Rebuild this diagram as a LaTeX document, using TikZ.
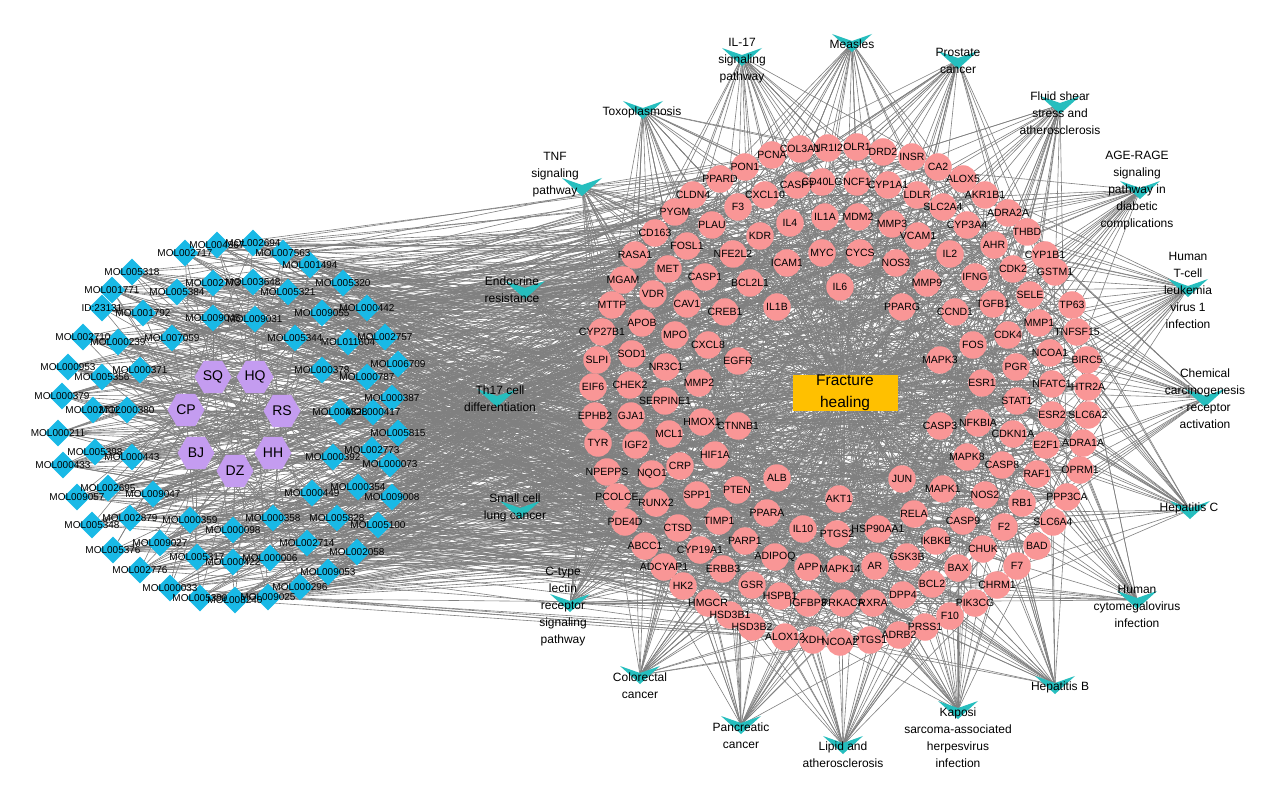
\documentclass[tikz,border=0pt]{standalone}
\usepackage{fontspec}
\setmainfont{Liberation Sans}
\usetikzlibrary{shapes.geometric}
\pgfdeclarelayer{bg}
\pgfsetlayers{bg,main}
\definecolor{tgtc}{RGB}{249,150,150}
\definecolor{cmpc}{RGB}{25,185,230}
\definecolor{herbc}{RGB}{196,156,240}
\definecolor{pwc}{RGB}{38,190,190}
\definecolor{fhc}{RGB}{255,192,0}
\definecolor{edgec}{RGB}{128,128,128}
\tikzset{
 tgt/.style={circle,fill=tgtc,minimum size=27.5pt,inner sep=0pt},
 tlbl/.style={font=\fontsize{10.5}{12}\selectfont,inner sep=0pt},
 cmp/.style={diamond,fill=cmpc,minimum width=27pt,minimum height=27pt,inner sep=0pt},
 clbl/.style={font=\fontsize{10}{12}\selectfont,inner sep=0pt},
 herb/.style={regular polygon,regular polygon sides=6,fill=herbc,minimum size=37pt,inner sep=0pt,font=\fontsize{14}{16}\selectfont},
 plbl/.style={font=\fontsize{12}{17}\selectfont,align=center,inner sep=0pt},
 fhbox/.style={rectangle,fill=fhc,minimum width=105pt,minimum height=33pt,inner sep=0pt,align=center,font=\fontsize{15.5}{22}\selectfont},
 edge/.style={draw=edgec,line width=0.6pt},
}
\def\tlist{720/179/PPARD,745/167/PON1,772/155/PCNA,800/149/COL3A1,828/148/NR1I2,857/147/OLR1,883/152/DRD2,912/157/INSR,938/167/CA2,963/179/ALOX5,
985/195/AKR1B1,1008/213/ADRA2A,1027/232/THBD,1045/255/CYP1B1,1055/272/GSTM1,1072/305/TP63,1077/332/TNFSF15,1087/360/BIRC5,1088/387/HTR2A,1088/415/SLC6A2,
1083/443/ADRA1A,1080/470/OPRM1,1067/497/PPP3CA,1053/522/SLC6A4,1037/546/BAD,1017/566/F7,997/585/CHRM1,975/603/PIK3CG,950/616/F10,925/627/PRSS1,
899/635/ADRB2,870/640/PTGS1,840/642/NCOA2,813/640/XDH,785/637/ALOX12,752/627/HSD3B2,730/615/HSD3B1,708/603/HMGCR,683/586/HK2,664/567/ADCYAP1,
645/546/ABCC1,625/522/PDE4D,617/497/PCOLCE,607/472/NPEPPS,598/443/TYR,595/416/EPHB2,593/387/EIF6,597/360/SLPI,602/332/CYP27B1,612/305/MTTP,
623/280/MGAM,635/255/RASA1,655/233/CD163,675/212/PYGM,693/195/CLDN4,
765/195/CXCL10,797/185/CASP7,822/182/CD40LG,857/182/NCF1,888/185/CYP1A1,917/195/LDLR,943/207/SLC2A4,967/225/CYP3A4,994/245/AHR,1013/269/CDK2,
1030/295/SELE,1039/323/MMP1,1050/353/NCOA1,1052/384/NFATC1,1052/415/ESR2,1046/445/E2F1,1037/474/RAF1,1022/503/RB1,1004/527/F2,983/549/CHUK,
958/568/BAX,932/584/BCL2,903/595/DPP4,873/603/RXRA,843/603/PRKACA,808/603/IGFBP3,780/596/HSPB1,752/585/GSR,723/569/ERBB3,700/550/CYP19A1,
678/528/CTSD,656/503/RUNX2,652/474/NQO1,636/445/IGF2,631/416/GJA1,630/385/CHEK2,632/354/SOD1,642/323/APOB,653/294/VDR,668/269/MET,
687/246/FOSL1,712/225/PLAU,738/207/F3,
790/223/IL4,760/236/KDR,733/254/NFE2L2,705/277/CASP1,687/304/CAV1,675/335/MPO,666/367/NR3C1,665/401/SERPINE1,669/434/MCL1,680/466/CRP,
697/495/SPP1,719/521/TIMP1,745/541/PARP1,775/557/ADIPOQ,808/567/APP,840/569/MAPK14,875/566/AR,907/557/GSK3B,936/541/IKBKB,963/521/CASP9,
985/495/NOS2,1002/465/CASP8,1013/434/CDKN1A,1017/401/STAT1,1016/367/PGR,1008/335/CDK4,993/304/TGFB1,975/277/IFNG,950/254/IL2,918/236/VCAM1,
892/224/MMP3,858/217/MDM2,825/217/IL1A,787/263/ICAM1,750/283/BCL2L1,725/312/CREB1,708/345/CXCL8,699/383/MMP2,702/422/HMOX1,715/455/HIF1A,
737/490/PTEN,767/513/PPARA,803/529/IL10,837/534/PTGS2,878/529/HSP90AA1,914/514/RELA,943/489/MAPK1,967/457/MAPK8,978/423/NFKBIA,982/383/ESR1,
973/345/FOS,955/312/CCND1,927/283/MMP9,896/263/NOS3,860/253/CYCS,822/253/MYC,
777/307/IL1B,738/361/EGFR,738/426/CTNNB1,777/478/ALB,839/499/AKT1,902/479/JUN,940/426/CASP3,940/360/MAPK3,902/307/PPARG,840/287/IL6}
\def\clist{217/245/MOL004367,253/243/MOL002694,185/253/MOL002717,283/253/MOL007563,132/272/MOL005318,310/265/MOL001494,213/283/MOL002773,253/282/MOL003648,343/283/MOL005320,112/290/MOL001771,
177/292/MOL005384,288/292/MOL005321,102/308/ID:23131,367/308/MOL000442,143/313/MOL001792,213/318/MOL009045,255/319/MOL009031,322/313/MOL009055,83/337/MOL002710,118/342/MOL000239,
172/338/MOL007059,295/338/MOL005344,348/342/MOL011604,385/337/MOL002757,68/367/MOL000953,140/370/MOL000371,102/377/MOL005356,322/370/MOL000378,367/377/MOL000787,398/364/MOL006709,
62/396/MOL000379,392/398/MOL000387,93/410/MOL002712,127/410/MOL000380,340/412/MOL004328,373/412/MOL000417,58/433/MOL000211,398/433/MOL005815,95/452/MOL005398,132/457/MOL000443,
333/457/MOL000392,372/450/MOL002773,63/465/MOL000433,390/464/MOL000073,108/488/MOL002695,153/494/MOL009047,312/493/MOL000449,358/487/MOL000354,77/497/MOL009057,392/497/MOL009008,
130/518/MOL002879,190/520/MOL000359,273/518/MOL000358,337/518/MOL005828,378/525/MOL005100,92/525/MOL005348,233/530/MOL000098,307/543/MOL002714,160/543/MOL009027,113/550/MOL005376,
357/552/MOL002058,197/557/MOL005317,270/558/MOL000006,233/562/MOL000422,140/570/MOL002776,328/572/MOL009053,170/588/MOL000033,300/587/MOL000296,268/597/MOL009025,200/598/MOL005399,
235/600/MOL008240}
\def\plist{742/57/742/61/{IL-17\\signaling\\pathway},
852/43/852/44/{Measles},
958/60/958/61/{Prostate\\cancer},
643/110/642/112/{Toxoplasmosis},
1060/105/1060/113/{Fluid shear\\stress and\\atherosclerosis},
1140/190/1137/191/{AGE-RAGE\\signaling\\pathway in\\diabetic\\complications},
1188/288/1188/290/{Human\\T-cell\\leukemia\\virus 1\\infection},
1205/398/1205/399/{Chemical\\carcinogenesis\\- receptor\\activation},
1190/510/1189/508/{Hepatitis C},
1137/600/1137/606/{Human\\cytomegalovirus\\infection},
1055/685/1060/687/{Hepatitis B},
958/710/958/738/{Kaposi\\sarcoma-associated\\herpesvirus\\infection},
843/745/843/755/{Lipid and\\atherosclerosis},
741/725/741/736/{Pancreatic\\cancer},
640/675/640/686/{Colorectal\\cancer},
570/603/563/607/{C-type\\lectin\\receptor\\signaling\\pathway},
520/510/515/508/{Small cell\\lung cancer},
497/398/500/399/{Th17 cell\\differentiation},
525/290/512/290/{Endocrine\\resistance},
582/187/555/175/{TNF\\signaling\\pathway}}
\begin{document}
\begin{tikzpicture}[x=1pt,y=-1pt]
\useasboundingbox (0,0) rectangle (1269,799);
% target shapes
\foreach \x/\y/\t [count=\i] in \tlist {\node[tgt] (t\i) at (\x,\y) {}; \xdef\NT{\i}}
% compound shapes
\foreach \x/\y/\t [count=\i] in \clist {\node[cmp] (c\i) at (\x,\y) {}; \xdef\NC{\i}}
% herbs
\node[herb] (h1) at (213,377) {SQ};
\node[herb] (h2) at (255,377) {HQ};
\node[herb] (h3) at (186,410) {CP};
\node[herb] (h4) at (282,411) {RS};
\node[herb] (h5) at (196,453) {BJ};
\node[herb] (h6) at (273,453) {HH};
\node[herb] (h7) at (235,471) {DZ};
% pathway shapes
\foreach \cx/\cy/\lx/\ly/\t [count=\i] in \plist {
  \coordinate (p\i) at (\cx,\cy);
  \fill[pwc,shift={(\cx,\cy)}] (-20,-9) -- (0,-2) -- (20,-9) -- (0,9) -- cycle;
  \xdef\NP{\i}}
\node[fhbox] (fh) at (845,393) {Fracture\\healing};
% labels
\foreach \x/\y/\t [count=\i] in \tlist {\node[tlbl] at (t\i.center) {\t};}
\foreach \x/\y/\t [count=\i] in \clist {\node[clbl] at (c\i.center) {\t};}
\foreach \cx/\cy/\lx/\ly/\t [count=\i] in \plist {\node[plbl] at (\lx,\ly) {\t};}
% edges
\begin{pgfonlayer}{bg}
\fill[white] (0,0) rectangle (1269,799);
\pgfmathsetseed{7}
\foreach \i in {1,...,\NT} {\draw[edge] (fh) -- (t\i);}
\foreach \c in {1,...,\NC}{
  \foreach \k in {1,...,13}{\pgfmathrandominteger{\rr}{1}{\NT}\draw[edge] (c\c) -- (t\rr);}
  \foreach \k in {1,2}{\pgfmathrandominteger{\rr}{1}{7}\draw[edge] (c\c) -- (h\rr);}
}
\foreach \p in {1,...,\NP}{\foreach \k in {1,...,26}{\pgfmathrandominteger{\rr}{1}{\NT}\draw[edge] (p\p) -- (t\rr);}}
\foreach \k in {1,...,300}{\pgfmathrandominteger{\ra}{1}{\NT}\pgfmathrandominteger{\rb}{1}{\NT}\draw[edge] (t\ra) -- (t\rb);}
\end{pgfonlayer}
\end{tikzpicture}
\end{document}
